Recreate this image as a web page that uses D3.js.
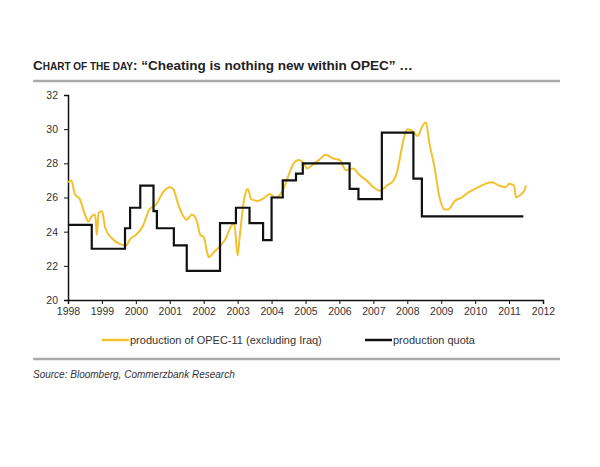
<!DOCTYPE html><html><head><meta charset="utf-8">
<script src="https://cdn.jsdelivr.net/npm/d3@7"></script>
<style>body{margin:0;background:#fff}</style></head><body><svg id="c" width="600" height="467"></svg>
<script>
const yearTicks=[1998,1999,2000,2001,2002,2003,2004,2005,2006,2007,2008,2009,2010,2011,2012];
const valueTicks=[20,22,24,26,28,30,32];
const productionYears=[1998.0,1998.1,1998.2,1998.35,1998.5,1998.6,1998.7,1998.8,1998.85,1998.9,1999.0,1999.1,1999.3,1999.5,1999.7,1999.85,2000.0,2000.2,2000.4,2000.6,2000.8,2001.0,2001.1,2001.25,2001.4,2001.5,2001.65,2001.8,2001.9,2002.0,2002.1,2002.15,2002.3,2002.5,2002.65,2002.8,2002.9,2003.0,2003.05,2003.2,2003.3,2003.4,2003.6,2003.8,2003.95,2004.1,2004.3,2004.5,2004.65,2004.8,2004.95,2005.05,2005.2,2005.4,2005.6,2005.8,2006.0,2006.2,2006.4,2006.6,2006.8,2007.0,2007.2,2007.4,2007.6,2007.7,2007.8,2007.9,2008.0,2008.15,2008.3,2008.45,2008.55,2008.65,2008.8,2008.95,2009.1,2009.2,2009.4,2009.6,2009.8,2010.0,2010.3,2010.5,2010.7,2010.9,2011.0,2011.15,2011.2,2011.3,2011.45,2011.5];
const productionValues=[26.9,27.0,26.2,25.9,25.0,24.6,24.9,25.0,23.8,25.1,25.2,24.2,23.6,23.3,23.2,23.6,23.8,24.3,25.3,25.6,26.3,26.6,26.5,25.6,24.9,24.7,25.0,24.6,23.8,23.7,22.8,22.5,22.8,23.2,23.6,24.3,24.5,22.6,23.5,26.0,26.5,25.9,25.8,26.0,26.2,26.0,26.3,27.3,28.0,28.2,28.0,27.7,27.9,28.2,28.5,28.3,28.2,27.6,27.7,27.3,27.0,26.6,26.4,26.7,27.0,27.5,28.5,29.5,30.0,29.9,29.6,30.2,30.4,29.2,27.8,26.0,25.3,25.3,25.8,26.0,26.3,26.5,26.8,26.9,26.7,26.6,26.8,26.7,26.0,26.1,26.4,26.7];
const quotaStarts=[1998.0,1998.7,1999.68,1999.83,2000.13,2000.52,2000.62,2001.12,2001.5,2002.48,2002.95,2003.35,2003.75,2004.0,2004.33,2004.72,2004.92,2006.3,2006.56,2007.25,2008.18,2008.43];
const quotaValues=[24.4,23.0,24.2,25.4,26.7,25.2,24.2,23.2,21.7,24.5,25.4,24.5,23.5,26.0,27.0,27.4,28.0,26.5,25.9,29.8,27.1,24.9];
const quotaEnd=2011.42;

const svg=d3.select("#c");
const x=d3.scaleLinear().domain([1998,2012]).range([68,543]);
const y=d3.scaleLinear().domain([20,32]).range([300,95]);
const F="Liberation Sans, Arial, sans-serif";

const t=svg.append("text").attr("x",33).attr("y",70).attr("font-family",F).attr("font-weight","bold").attr("fill","#222");
t.append("tspan").attr("font-size",13.5).text("C");
t.append("tspan").attr("font-size",10).text("HART OF THE DAY");
t.append("tspan").attr("font-size",13.5).text(": \u201cCheating is nothing new within OPEC\u201d …");
svg.append("line").attr("x1",33).attr("x2",560).attr("y1",81).attr("y2",81).attr("stroke","#aaa").attr("stroke-width",2.5);
svg.append("line").attr("x1",33).attr("x2",560).attr("y1",359).attr("y2",359).attr("stroke","#aaa").attr("stroke-width",2.5);

const ya=svg.append("g").attr("transform","translate(68,0)").call(d3.axisLeft(y).tickValues(valueTicks).tickSize(4).tickPadding(6));
const xa=svg.append("g").attr("transform","translate(0,300)").call(d3.axisBottom(x).tickValues(yearTicks).tickFormat(d3.format("d")).tickSize(4).tickPadding(4));
[ya,xa].forEach(a=>{a.select(".domain").attr("stroke","#111").attr("stroke-width",1.5);a.selectAll("line").attr("stroke","#111");a.selectAll("text").attr("font-family",F).attr("font-size",10.5).attr("fill","#333");});

const prod=productionYears.map((d,i)=>[d,productionValues[i]]);
svg.append("path").datum(prod).attr("fill","none").attr("stroke","#f2c12e").attr("stroke-width",2)
 .attr("d",d3.line().x(d=>x(d[0])).y(d=>y(d[1])).curve(d3.curveMonotoneX));
const q=quotaStarts.map((d,i)=>[d,quotaValues[i]]);q.push([quotaEnd,quotaValues[quotaValues.length-1]]);
svg.append("path").datum(q).attr("fill","none").attr("stroke","#111").attr("stroke-width",2.2)
 .attr("d",d3.line().x(d=>x(d[0])).y(d=>y(d[1])).curve(d3.curveStepAfter));

const leg=[["production of OPEC-11 (excluding Iraq)","#f2c12e",102],["production quota","#111",365]];
leg.forEach(([l,c,lx])=>{svg.append("line").attr("x1",lx).attr("x2",lx+27).attr("y1",340).attr("y2",340).attr("stroke",c).attr("stroke-width",2.5);
 svg.append("text").attr("x",lx+28).attr("y",344).attr("font-family",F).attr("font-size",11).attr("fill","#333").text(l);});
svg.append("text").attr("x",33).attr("y",378).attr("font-family",F).attr("font-size",10).attr("font-style","italic").attr("fill","#333").text("Source: Bloomberg, Commerzbank Research");
</script></body></html>
